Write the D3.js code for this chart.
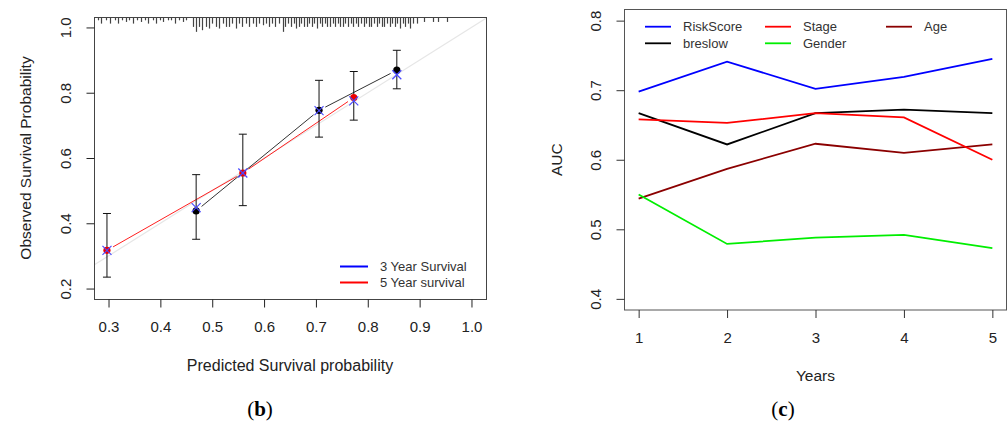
<!DOCTYPE html>
<html><head><meta charset="utf-8">
<script src="https://cdn.jsdelivr.net/npm/d3@7"></script>
<style>
body{margin:0;background:#fff;}
svg{display:block;font-family:"Liberation Sans",Arial,sans-serif;}
</style></head><body>
<svg id="c" width="1007" height="425"></svg>
<script>
// ---------- Panel (b): calibration ----------
const calTicksX = [0.3,0.4,0.5,0.6,0.7,0.8,0.9,1.0];
const calTicksY = [0.2,0.4,0.6,0.8,1.0];
const pred3 = [0.469,0.706,0.856];
const obs3  = [0.438,0.746,0.869];
const lo3   = [0.351,0.664,0.812];
const hi3   = [0.549,0.838,0.930];
const corr3 = [0.448,0.745,0.855];
const pred5 = [0.297,0.559,0.773];
const obs5  = [0.317,0.554,0.785];
const lo5   = [0.235,0.454,0.716];
const hi5   = [0.430,0.673,0.865];
const corr5 = [0.317,0.554,0.775];
const calLegend = ["3 Year Survival","5 Year survival"];
// distribution of predicted probabilities (top rug)
const rugP = [0.280,0.286,0.296,0.303,0.312,0.318,0.326,0.333,0.340,0.348,0.355,0.362,0.370,0.377,0.385,0.392,0.399,0.406,0.414,0.421,0.428,0.436,0.443,0.450,
0.462,0.468,0.474,0.481,0.488,0.494,0.500,0.507,0.513,0.520,0.526,0.533,0.539,0.546,0.552,0.558,0.565,0.571,0.578,0.584,0.590,0.597,0.603,0.609,0.616,0.622,0.629,
0.636,0.641,0.647,0.652,0.657,0.662,0.667,0.672,0.677,0.682,0.687,0.692,0.697,0.702,0.707,0.712,0.717,0.722,0.727,0.732,0.737,0.742,0.747,0.752,0.757,0.762,0.767,
0.772,0.777,0.782,0.787,0.792,0.797,0.802,0.807,0.812,0.817,0.822,0.827,0.832,0.837,0.842,0.847,0.852,0.857,0.862,0.867,0.872,0.877,0.882,0.887,0.895,0.908,0.925,0.936,0.952];
const rugN = [1,2,1,2,1,2,1,1.5,1,2,1,1.5,1,2,1,2,1,1.5,1,1,2,1,1.5,1,
3,4.5,3,4,3,3.5,2,3,3.5,2,3,3,2,3.5,2,3,2,3,2,3,2,2.5,2,3,2,3,2,
4.5,3,2,3,2,3.5,3,2,3,3,2,3,2,3.5,2,3,2,3,3,2,3,2,3,3,2,3,2,
3,2,3,2,3,2,3,3,2,3,2,3,3,2,3,2,3,2,3.5,2,3,2,3.5,2,2,1.5,1.5,1.5,1.5];

// ---------- Panel (c): AUC over years ----------
const years = [1,2,3,4,5];
const aucTicksY = [0.4,0.5,0.6,0.7,0.8];
const seriesNames = ["RiskScore","Stage","Age","breslow","Gender"];
const seriesColors = ["#0000ff","#ff0000","#8b0000","#000000","#00ee00"];
const riskScore = [0.698,0.741,0.702,0.719,0.745];
const stage     = [0.658,0.653,0.667,0.661,0.600];
const age       = [0.544,0.587,0.623,0.610,0.622];
const breslow   = [0.667,0.622,0.667,0.672,0.667];
const gender    = [0.550,0.479,0.488,0.492,0.473];

const svg = d3.select("#c");
const txt = "#222";

// ===== Panel b =====
const bx = {l:94,r:486,t:17,b:299};
const xL = d3.scaleLinear().domain([0.272,1.028]).range([bx.l,bx.r]);
const yL = d3.scaleLinear().domain([0.168,1.032]).range([bx.b,bx.t]);
const gb = svg.append("g");
gb.append("clipPath").attr("id","clipb").append("rect")
  .attr("x",bx.l).attr("y",bx.t).attr("width",bx.r-bx.l).attr("height",bx.b-bx.t);
// ideal line
gb.append("line").attr("clip-path","url(#clipb)")
  .attr("x1",xL(0.272)).attr("y1",yL(0.272)).attr("x2",xL(1.028)).attr("y2",yL(1.028))
  .attr("stroke","#e6e6e6").attr("stroke-width",1.2);
// rug
gb.append("g").selectAll("line").data(rugP).join("line")
  .attr("x1",d=>Math.round(xL(d))+0.5).attr("x2",d=>Math.round(xL(d))+0.5)
  .attr("y1",bx.t).attr("y2",(d,i)=>bx.t+rugN[i]*3.3)
  .attr("stroke","#444").attr("stroke-width",1.2);
// lines with gaps (type = "b")
function gapLines(g, px, py, color){
  for(let i=0;i<px.length-1;i++){
    const x1=xL(px[i]),y1=yL(py[i]),x2=xL(px[i+1]),y2=yL(py[i+1]);
    const L=Math.hypot(x2-x1,y2-y1), gap=7;
    const ux=(x2-x1)/L, uy=(y2-y1)/L;
    g.append("line").attr("x1",x1+ux*gap).attr("y1",y1+uy*gap)
      .attr("x2",x2-ux*gap).attr("y2",y2-uy*gap)
      .attr("stroke",color).attr("stroke-width",1);
  }
}
gapLines(gb, pred5, obs5, "#ff2020");
gapLines(gb, pred3, obs3, "#333");
// error bars
function errBars(pred, lo, hi){
  const g = gb.append("g").attr("stroke","#111").attr("stroke-width",1);
  g.selectAll("line.v").data(pred).join("line").attr("class","v")
    .attr("x1",d=>xL(d)).attr("x2",d=>xL(d)).attr("y1",(d,i)=>yL(lo[i])).attr("y2",(d,i)=>yL(hi[i]));
  g.selectAll("line.a").data(pred).join("line").attr("class","a")
    .attr("x1",d=>xL(d)-4).attr("x2",d=>xL(d)+4).attr("y1",(d,i)=>yL(lo[i])).attr("y2",(d,i)=>yL(lo[i]));
  g.selectAll("line.b").data(pred).join("line").attr("class","b")
    .attr("x1",d=>xL(d)-4).attr("x2",d=>xL(d)+4).attr("y1",(d,i)=>yL(hi[i])).attr("y2",(d,i)=>yL(hi[i]));
}
errBars(pred3, lo3, hi3);
errBars(pred5, lo5, hi5);
// dots
gb.append("g").selectAll("circle").data(pred3).join("circle")
  .attr("cx",d=>xL(d)).attr("cy",(d,i)=>yL(obs3[i])).attr("r",3.6).attr("fill","#000");
gb.append("g").selectAll("circle").data(pred5).join("circle")
  .attr("cx",d=>xL(d)).attr("cy",(d,i)=>yL(obs5[i])).attr("r",3.6).attr("fill","#ee0000");
// blue x
function xMarks(pred, corr){
  const g = gb.append("g").attr("stroke","#4a4aff").attr("stroke-width",1.2);
  pred.forEach((p,i)=>{
    const cx=xL(p), cy=yL(corr[i]), s=4.5;
    g.append("line").attr("x1",cx-s).attr("y1",cy-s).attr("x2",cx+s).attr("y2",cy+s);
    g.append("line").attr("x1",cx-s).attr("y1",cy+s).attr("x2",cx+s).attr("y2",cy-s);
  });
}
xMarks(pred3, corr3);
xMarks(pred5, corr5);
// box
gb.append("rect").attr("x",bx.l+0.5).attr("y",bx.t+0.5).attr("width",bx.r-bx.l).attr("height",bx.b-bx.t)
  .attr("fill","none").attr("stroke","#444").attr("stroke-width",1);
// axes
const axBx = gb.append("g").attr("transform",`translate(0,${bx.b+0.5})`)
  .call(d3.axisBottom(xL).tickValues(calTicksX).tickSize(8).tickFormat(d3.format(".1f")));
axBx.select(".domain").remove();
axBx.selectAll("line").attr("stroke","#222");
axBx.selectAll("text").attr("y",27).attr("dy",null).attr("dominant-baseline","central")
  .attr("font-size",15).attr("fill",txt).attr("font-family","Liberation Sans");
const axBy = gb.append("g").attr("transform",`translate(${bx.l+0.5},0)`)
  .call(d3.axisLeft(yL).tickValues(calTicksY).tickSize(8).tickFormat(d3.format(".1f")));
axBy.select(".domain").remove();
axBy.selectAll("line").attr("stroke","#222");
axBy.selectAll("text").attr("transform","rotate(-90)").attr("x",0).attr("y",-29).attr("dy",null)
  .attr("text-anchor","middle").attr("dominant-baseline","central")
  .attr("font-size",15).attr("fill",txt).attr("font-family","Liberation Sans");
gb.append("text").attr("x",(bx.l+bx.r)/2).attr("y",bx.b+66).attr("text-anchor","middle")
  .attr("dominant-baseline","central").attr("font-size",16).attr("fill",txt)
  .text("Predicted Survival probability");
gb.append("text").attr("transform",`translate(${bx.l-69},${(bx.t+bx.b)/2}) rotate(-90)`)
  .attr("text-anchor","middle").attr("dominant-baseline","central").attr("font-size",15.5).attr("fill",txt)
  .text("Observed Survival Probability");
// legend
const legB = gb.append("g");
const legBColors = ["#0000ff","#ff0000"];
calLegend.forEach((t,i)=>{
  const y = 266.5 + i*16;
  legB.append("line").attr("x1",340).attr("x2",368).attr("y1",y).attr("y2",y)
    .attr("stroke",legBColors[i]).attr("stroke-width",2);
  legB.append("text").attr("x",380).attr("y",y).attr("dominant-baseline","central")
    .attr("font-size",13).attr("fill","#333").text(t);
});
svg.append("text").attr("x",260).attr("y",416).attr("text-anchor","middle")
  .attr("font-family","Liberation Serif").attr("font-size",21).attr("fill","#000")
  .html('(<tspan font-weight="bold">b</tspan>)');

// ===== Panel c =====
const cx = {l:624.5,r:1006.5,t:9.5,b:310};
const xR = d3.scaleLinear().domain([0.84,5.16]).range([cx.l,cx.r]);
const yR = d3.scaleLinear().domain([0.384,0.816]).range([cx.b,cx.t]);
const gc = svg.append("g");
const allSeries = [riskScore, stage, age, breslow, gender];
const lineGen = d3.line().x((d,i)=>xR(years[i])).y(d=>yR(d));
const drawOrder = [3,2,1,4,0];
drawOrder.forEach(k=>{
  gc.append("path").attr("d",lineGen(allSeries[k])).attr("fill","none")
    .attr("stroke",seriesColors[k]).attr("stroke-width",1.8);
});
gc.append("rect").attr("x",cx.l).attr("y",cx.t).attr("width",cx.r-cx.l).attr("height",cx.b-cx.t)
  .attr("fill","none").attr("stroke","#555").attr("stroke-width",1);
const axCx = gc.append("g").attr("transform",`translate(0,${cx.b})`)
  .call(d3.axisBottom(xR).tickValues(years).tickSize(8).tickFormat(d3.format("d")));
axCx.select(".domain").remove();
axCx.selectAll("line").attr("stroke","#333");
axCx.selectAll("text").attr("y",27).attr("dy",null).attr("dominant-baseline","central")
  .attr("font-size",15).attr("fill",txt).attr("font-family","Liberation Sans");
const axCy = gc.append("g").attr("transform",`translate(${cx.l},0)`)
  .call(d3.axisLeft(yR).tickValues(aucTicksY).tickSize(8).tickFormat(d3.format(".1f")));
axCy.select(".domain").remove();
axCy.selectAll("line").attr("stroke","#333");
axCy.selectAll("text").attr("transform","rotate(-90)").attr("x",0).attr("y",-29).attr("dy",null)
  .attr("text-anchor","middle").attr("dominant-baseline","central")
  .attr("font-size",15).attr("fill",txt).attr("font-family","Liberation Sans");
gc.append("text").attr("x",(cx.l+cx.r)/2).attr("y",cx.b+65).attr("text-anchor","middle")
  .attr("dominant-baseline","central").attr("font-size",15.5).attr("fill",txt).text("Years");
gc.append("text").attr("transform",`translate(${cx.l-68},${(cx.t+cx.b)/2}) rotate(-90)`)
  .attr("text-anchor","middle").attr("dominant-baseline","central").attr("font-size",15.5).attr("fill",txt)
  .text("AUC");
// legend (3 columns, filled by row)
const legCx = [645, 765, 886];
const legCy = [26.7, 43.3];
seriesNames.forEach((n,i)=>{
  const col = i%3, row = Math.floor(i/3);
  const x = legCx[col], y = legCy[row];
  gc.append("line").attr("x1",x).attr("x2",x+26).attr("y1",y).attr("y2",y)
    .attr("stroke",seriesColors[i]).attr("stroke-width",1.8);
  gc.append("text").attr("x",x+38).attr("y",y).attr("dominant-baseline","central")
    .attr("font-size",13).attr("fill","#333").text(n);
});
svg.append("text").attr("x",783).attr("y",416).attr("text-anchor","middle")
  .attr("font-family","Liberation Serif").attr("font-size",21).attr("fill","#000")
  .html('(<tspan font-weight="bold">c</tspan>)');
</script>
</body></html>
